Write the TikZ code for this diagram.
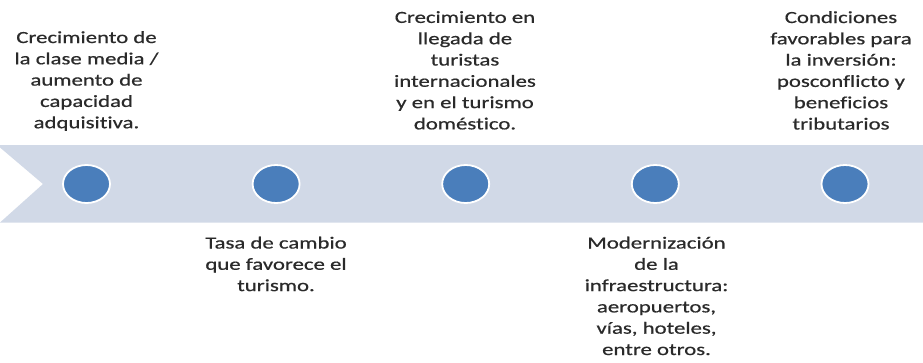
\documentclass[tikz,border=0pt]{standalone}
\usepackage{fontspec}
\setmainfont{Carlito}[FakeStretch=1.34, FakeBold=0.6, Ligatures={NoCommon}]
\usetikzlibrary{shapes.geometric}
\definecolor{bandcol}{HTML}{D1D9E7}
\definecolor{dotcol}{HTML}{4A7EBB}
\definecolor{txtcol}{HTML}{2A2A2A}
\tikzset{
  dotnode/.style={ellipse, fill=dotcol, draw=white, line width=1.8pt, minimum width=47pt, minimum height=38pt, inner sep=0pt},
  label/.style={anchor=north, align=center, inner sep=0pt, text=txtcol, font=\fontsize{17}{21.3}\selectfont}
}
\begin{document}
\begin{tikzpicture}[x=1pt,y=-1pt]
\useasboundingbox (0,0) rectangle (923,362);
\fill[white] (0,0) rectangle (923,362);
\fill[bandcol] (0,145) -- (923,145) -- (923,222.5) -- (0,222.5) -- (43,184) -- (0,147.5) -- cycle;
\node[dotnode] (c1) at (86.5,184) {};
\node[dotnode] (c2) at (276.1,184) {};
\node[dotnode] (c3) at (465.7,184) {};
\node[dotnode] (c4) at (655.3,184) {};
\node[dotnode] (c5) at (845,184) {};
\node[label] (t1) at (86.5,31) {Crecimiento de\\la clase media /\\aumento de\\capacidad\\adquisitiva.};
\node[label] (t2) at (276,236.5) {Tasa de cambio\\que favorece el\\turismo.};
\node[label] (t3) at (465,11) {Crecimiento en\\llegada de\\turistas\\internacionales\\y en el turismo\\doméstico.};
\node[label] (t4) at (656.5,236.5) {Modernización\\de la\\infraestructura:\\aeropuertos,\\vías, hoteles,\\entre otros.};
\node[label] (t5) at (841,11) {Condiciones\\favorables para\\la inversión:\\posconflicto y\\beneficios\\tributarios};
\end{tikzpicture}
\end{document}
